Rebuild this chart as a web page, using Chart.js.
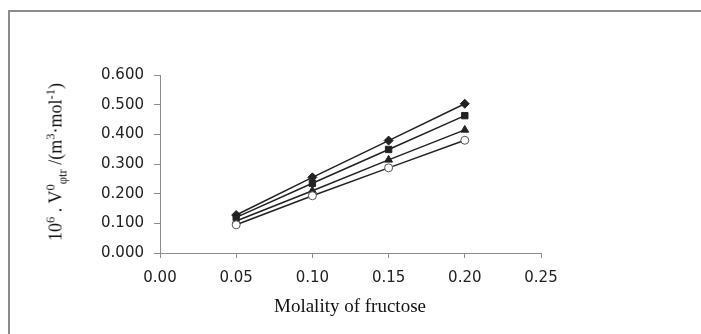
<!DOCTYPE html>
<html>
<head>
<meta charset="utf-8">
<script src="https://cdn.jsdelivr.net/npm/chart.js@4.4.1/dist/chart.umd.min.js"></script>
<style>
  html, body { margin: 0; padding: 0; background: #fff; overflow: hidden; }
  #wrap { position: relative; width: 701px; height: 334px; overflow: hidden; }
  #frame { position: absolute; left: 8px; top: 10px; width: 800px; height: 400px; border: 2px solid #8c8c8c; }
  #chart { position: absolute; left: 0; top: 0; }
  .axis-title { position: absolute; font-family: "Liberation Serif", "Times New Roman", serif; color: #111; white-space: nowrap; }
  #y-title { left: 56px; top: 162px; font-size: 18px; transform: translate(-50%, -50%) rotate(-90deg); }
  #x-title { left: 350px; top: 306px; font-size: 19px; transform: translate(-50%, -50%); }
  sup, sub { font-size: 70%; line-height: 0; }
</style>
</head>
<body>
<div id="wrap">
  <div id="frame"></div>
  <canvas id="chart" width="701" height="334"></canvas>
  <div id="y-title" class="axis-title">10<sup>6</sup> . V<sup>0</sup><sub>φtr</sub> /(m<sup>3</sup>·mol<sup>-1</sup>)</div>
  <div id="x-title" class="axis-title">Molality of fructose</div>
</div>
<script>
// --- DATA ---
const molality = [0.05, 0.10, 0.15, 0.20];
const diamondValues = [0.128, 0.255, 0.379, 0.503];
const squareValues = [0.120, 0.235, 0.349, 0.463];
const triangleValues = [0.108, 0.210, 0.314, 0.415];
const circleValues = [0.095, 0.193, 0.287, 0.380];

const xTicks = [0, 0.05, 0.10, 0.15, 0.20, 0.25];
const yTicks = [0, 0.1, 0.2, 0.3, 0.4, 0.5, 0.6];

const toPoints = (values) => molality.map((m, i) => ({ x: m, y: values[i] }));

const axisGray = '#8c8c8c';
const tickFont = { family: 'DejaVu Sans', size: 15 };

function makeSeries(label, values, style, radius, fill) {
    return {
        label: label,
        data: toPoints(values),
        showLine: true,
        borderColor: '#222',
        borderWidth: 1.5,
        pointStyle: style,
        pointRadius: radius,
        pointBackgroundColor: fill,
        pointBorderColor: style === 'circle' ? '#555' : '#222',
        pointBorderWidth: 1
    };
}

new Chart(document.getElementById('chart'), {
    type: 'scatter',
    data: {
        datasets: [
            makeSeries('Series 4', circleValues, 'circle', 4, '#fff'),
            makeSeries('Series 3', triangleValues, 'triangle', 4.5, '#222'),
            makeSeries('Series 2', squareValues, 'rect', 4.5, '#222'),
            makeSeries('Series 1', diamondValues, 'rectRot', 4.5, '#222')
        ]
    },
    options: {
        responsive: false,
        animation: false,
        layout: { padding: { left: 0, top: 75, right: 160, bottom: 0 } },
        plugins: { legend: { display: false }, tooltip: { enabled: false } },
        scales: {
            x: {
                type: 'linear',
                min: xTicks[0],
                max: xTicks[xTicks.length - 1],
                afterBuildTicks: (scale) => { scale.ticks = xTicks.map(v => ({ value: v })); },
                afterFit: (scale) => { scale.height = 81; },
                ticks: {
                    color: '#222',
                    font: tickFont,
                    padding: 11,
                    maxRotation: 0,
                    callback: (v) => Number(v).toFixed(2)
                },
                grid: { drawOnChartArea: false, drawTicks: true, tickLength: 5, color: axisGray },
                border: { color: axisGray, width: 1 }
            },
            y: {
                min: yTicks[0],
                max: yTicks[yTicks.length - 1],
                afterBuildTicks: (scale) => { scale.ticks = yTicks.map(v => ({ value: v })); },
                afterFit: (scale) => { scale.width = 160; },
                ticks: {
                    color: '#222',
                    font: tickFont,
                    padding: 10,
                    callback: (v) => Number(v).toFixed(3)
                },
                grid: { drawOnChartArea: false, drawTicks: true, tickLength: 6, color: axisGray },
                border: { color: axisGray, width: 1 }
            }
        }
    }
});
</script>
</body>
</html>
